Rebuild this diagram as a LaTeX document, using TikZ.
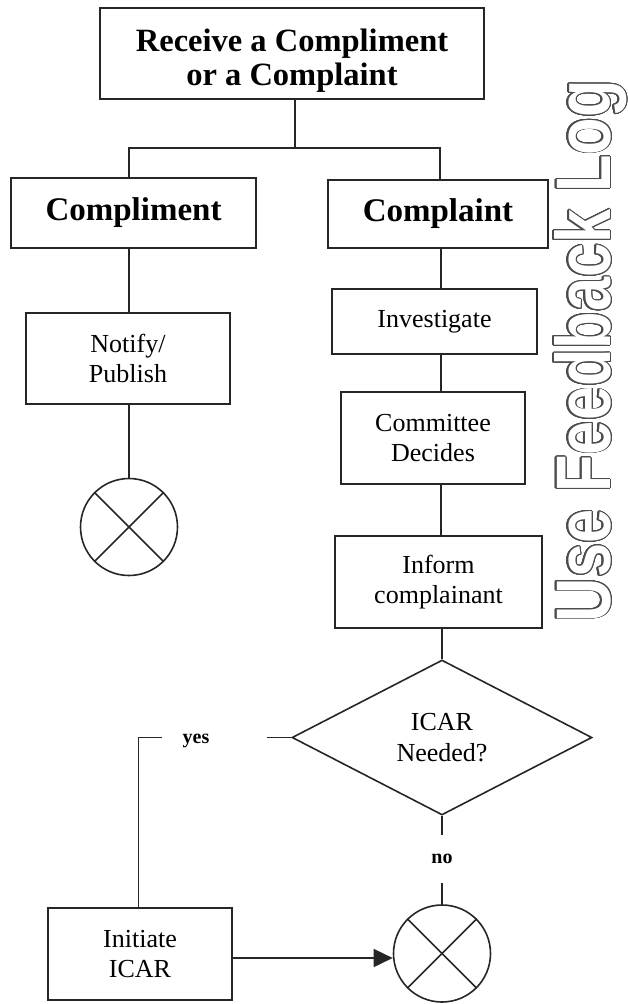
\documentclass[tikz,border=0pt]{standalone}
\usepackage{fontspec}
\setmainfont{Liberation Serif}
\newfontfamily\logfont{Liberation Sans}
\usepackage{contour}
\contourlength{0.9pt}
\contournumber{32}
\usetikzlibrary{shapes.geometric,arrows.meta}
\begin{document}
\begin{tikzpicture}[x=1pt,y=-1pt,
  ln/.style={line width=1.6pt, draw=black!85},
  box/.style={rectangle, draw=black!85, line width=1.6pt, inner sep=0pt, align=center,
    font=\fontsize{26}{30}\selectfont},
  bbox/.style={box, font=\fontsize{33}{36}\selectfont\bfseries},
  lbl/.style={inner sep=0pt, font=\fontsize{20}{22}\selectfont\bfseries},
  endc/.style={circle, draw=black!85, line width=1.6pt, minimum size=97pt, inner sep=0pt},
]
\useasboundingbox (0,0) rectangle (628,1004);

% nodes
\node[box, font=\fontsize{32.5}{34}\selectfont\bfseries, minimum width=384pt, minimum height=91pt] (top) at (292,53.5)
  {\vbox{\vskip16pt\hbox{\begin{tabular}{@{}c@{}}Receive a Compliment\\or a Complaint\end{tabular}}}};
\node[bbox, minimum width=245pt, minimum height=70pt] (compl) at (133.5,213) {Compliment};
\node[bbox, minimum width=220pt, minimum height=68pt] (compt) at (438,214) {Complaint};
\node[box, minimum width=204pt, minimum height=91pt] (notify) at (128,358.5) {Notify/\\Publish};
\node[endc] (endL) at (129,527) {};
\node[box, minimum width=205pt, minimum height=65pt] (invest) at (434.5,321.5) {Investigate};
\node[box, minimum width=184pt, minimum height=92pt] (comm) at (433,438) {Committee\\Decides};
\node[box, minimum width=207pt, minimum height=92pt] (inform) at (438.5,582) {Inform\\complainant};
\node[diamond, draw=black!85, line width=1.6pt, inner sep=0pt, aspect=1.94, minimum width=300pt, minimum height=155pt, align=center, font=\fontsize{26}{31}\selectfont] (dia) at (442,737.5) {ICAR\\Needed?};
\node[lbl, minimum height=48pt] (no) at (442,859) {no};
\node[endc] (endR) at (442,953.5) {};
\node[lbl] (yes) at (196,741) {yes};
\node[box, minimum width=184pt, minimum height=92pt] (init) at (140,954) {Initiate\\ICAR};

% crosses in end circles
\foreach \c in {endL,endR}{
  \draw[ln] (\c.north west) -- (\c.south east);
  \draw[ln] (\c.north east) -- (\c.south west);
}

% connectors
\coordinate (stem) at (295,148);
\coordinate (bl) at (129,148);
\coordinate (br) at (440,148);
\coordinate (sp) at (441,0);
\draw[ln] (top.south -| stem) -- (stem);
\draw[ln] (compl.north -| bl) -- (bl) -- (br) -- (compt.north -| br);
\draw[ln] (compl.south -| bl) -- (notify.north -| bl);
\draw[ln] (notify.south -| endL) -- (endL.north);
\draw[ln] (compt.south -| sp) -- (invest.north -| sp);
\draw[ln] (invest.south -| sp) -- (comm.north -| sp);
\draw[ln] (comm.south -| sp) -- (inform.north -| sp);
\draw[ln] (inform.south -| dia) -- (dia.north);
\draw[ln] (dia.south) -- (no.north);
\draw[ln] (no.south) -- (endR.north);

\coordinate (yR) at (267,737.5);
\coordinate (yL) at (162,737.5);
\coordinate (yC) at (138.5,737.5);
\draw[ln] (dia.west) -- (yR);
\draw[ln] (yL) -- (yC) -- (init.north -| yC);
\draw[ln, -{Triangle[length=19pt,width=18pt]}] ([yshift=-4pt]init.east) -- ([yshift=-4pt]init.east -| endR.west);

% vertical outlined title
\node[rotate=90, anchor=base, inner sep=0pt] (log) at (610,351)
  {\resizebox{542pt}{56pt}{\logfont\bfseries\fontsize{60}{60}\selectfont\color{white}\contour{black!70}{Use Feedback Log}}};
\end{tikzpicture}
\end{document}
